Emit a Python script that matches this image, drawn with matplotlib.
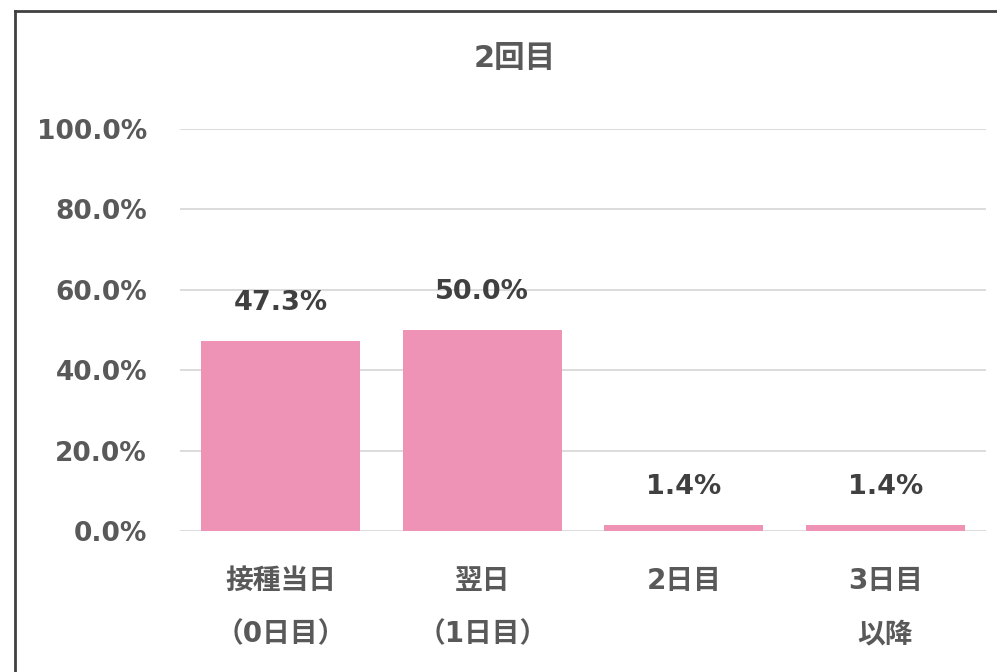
import matplotlib
matplotlib.use("Agg")
import matplotlib.pyplot as plt
from matplotlib.lines import Line2D

plt.rcParams['font.family'] = ['DejaVu Sans', 'Noto Sans CJK JP']

categories = ["接種当日\n（0日目）", "翌日\n（1日目）", "2日目", "3日目\n以降"]
values = [47.3, 50.0, 1.4, 1.4]
title = "2回目"
yticks = [0, 20, 40, 60, 80, 100]

W, H = 997, 672
PX = 72 / 100  # points per pixel
fig = plt.figure(figsize=(W / 100, H / 100), dpi=100)
ax = fig.add_axes([180 / W, 1 - 531 / H, (986 - 180) / W, (531 - 129) / H])

bar_color = "#EE93B5"
text_color = "#595959"
grid_color = "#D9D9D9"

x = list(range(len(categories)))
ax.bar(x, values, width=0.79, color=bar_color, zorder=3)
ax.set_xlim(-0.5, len(categories) - 0.5)
ax.set_ylim(0, 100)
ax.set_yticks(yticks)
ax.set_yticklabels([f"{v:.1f}%" for v in yticks], fontsize=19, fontweight='bold', color=text_color)
ax.yaxis.grid(True, color=grid_color, linewidth=1.3, zorder=0)
ax.tick_params(axis='y', length=0, pad=33 * PX)
ax.tick_params(axis='x', length=0)
ax.set_xticks(x)
ax.set_xticklabels([])
for s in ax.spines.values():
    s.set_visible(False)

for xi, v in zip(x, values):
    ax.annotate(f"{v:.1f}%", (xi, v), xytext=(0, 38 * PX), textcoords='offset points',
                ha='center', va='center', fontsize=19.5, fontweight='bold', color="#404040")

for xi, lab in zip(x, categories):
    for i, line in enumerate(lab.split("\n")):
        ax.annotate(line, (xi, 0), xytext=(0, -(50 + 53 * i) * PX), textcoords='offset points',
                    ha='center', va='center', fontsize=20, fontweight='bold', color=text_color,
                    annotation_clip=False)

fig.text(515 / W, 1 - 58 / H, title, ha='center', va='center', fontsize=22,
         fontweight='bold', color=text_color)

# outer frame (top and left visible)
fig.add_artist(Line2D([15 / W, 15 / W], [0, 1 - 11 / H], transform=fig.transFigure,
                      color="#404040", linewidth=2))
fig.add_artist(Line2D([15 / W, 1], [1 - 11 / H, 1 - 11 / H], transform=fig.transFigure,
                      color="#404040", linewidth=2))

fig.savefig("out.png", dpi=100)
